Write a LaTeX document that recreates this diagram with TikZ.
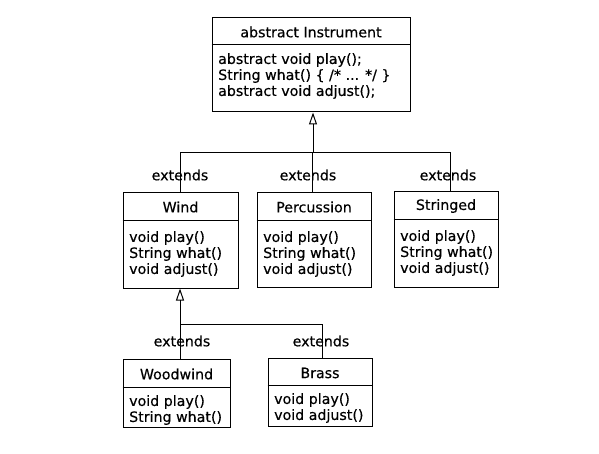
\documentclass[tikz,border=0pt]{standalone}
\usepackage{fontspec}
\setmainfont{DejaVu Sans}[FakeBold=0.4]
\usetikzlibrary{arrows.meta}
\begin{document}
\begin{tikzpicture}[x=1pt,y=-1pt,
  umlbox/.style={draw,line width=1pt,inner sep=0pt},
  title/.style={font=\fontsize{14.2}{16}\selectfont,inner sep=0pt},
  body/.style={font=\fontsize{14.2}{16}\selectfont,inner sep=0pt,anchor=west,align=left},
  lbl/.style={font=\fontsize{14.2}{16}\selectfont,inner sep=0pt},
  conn/.style={line width=1pt},
  inherit/.style={line width=1pt,-{Triangle[open,length=12pt,width=8pt]}}]
\useasboundingbox (0,0) rectangle (599,454);
% boxes
\node[umlbox,minimum width=198pt,minimum height=94pt] (inst) at (311,65) {};
\draw[line width=1pt] (inst.west |- 0,45) -- (inst.east |- 0,45);
\node[title] (instT) at (311,32) {abstract Instrument};
\node[body] (instB) at (218,76) {abstract void play();\\String what() \{ /* ... */ \}\\abstract void adjust();};

\node[umlbox,minimum width=115pt,minimum height=95pt] (wind) at (180.5,240.5) {};
\draw[line width=1pt] (wind.west |- 0,221) -- (wind.east |- 0,221);
\node[title] (windT) at (180.5,207) {Wind};
\node[body] (windB) at (129,254) {void play()\\String what()\\void adjust()};

\node[umlbox,minimum width=114pt,minimum height=94pt] (perc) at (314,240) {};
\draw[line width=1pt] (perc.west |- 0,221) -- (perc.east |- 0,221);
\node[title] (percT) at (314,207) {Percussion};
\node[body] (percB) at (263,254) {void play()\\String what()\\void adjust()};

\node[umlbox,minimum width=104pt,minimum height=95pt] (str) at (446,239.5) {};
\draw[line width=1pt] (str.west |- 0,220) -- (str.east |- 0,220);
\node[title] (strT) at (446,206) {Stringed};
\node[body] (strB) at (400,253) {void play()\\String what()\\void adjust()};

\node[umlbox,minimum width=107pt,minimum height=68pt] (wood) at (176.5,393) {};
\draw[line width=1pt] (wood.west |- 0,387) -- (wood.east |- 0,387);
\node[title] (woodT) at (176.5,374) {Woodwind};
\node[body] (woodB) at (129,410) {void play()\\String what()};

\node[umlbox,minimum width=104pt,minimum height=68pt] (brass) at (320,392) {};
\draw[line width=1pt] (brass.west |- 0,385) -- (brass.east |- 0,385);
\node[title] (brassT) at (320,373) {Brass};
\node[body] (brassB) at (274,408) {void play()\\void adjust()};

% connectors level 1
\coordinate (j1) at (313,153);
\coordinate (w1) at (180,153);
\coordinate (s1) at (450,153);
\draw[inherit] (j1) -- (j1 |- inst.south);
\draw[conn] (w1 |- wind.north) -- (w1) -- (s1) -- (s1 |- str.north);
\draw[conn] (312,153) -- (312,0 |- perc.north);
\node[lbl] (e1) at (180,175) {extends};
\node[lbl] (e2) at (308,175) {extends};
\node[lbl] (e3) at (448,175) {extends};

% connectors level 2
\coordinate (j2) at (180,324);
\coordinate (b2) at (322,324);
\draw[inherit] (j2) -- (j2 |- wind.south);
\draw[conn] (j2 |- wood.north) -- (j2) -- (b2) -- (b2 |- brass.north);
\node[lbl] (e4) at (182,341) {extends};
\node[lbl] (e5) at (321,341) {extends};
\end{tikzpicture}
\end{document}
